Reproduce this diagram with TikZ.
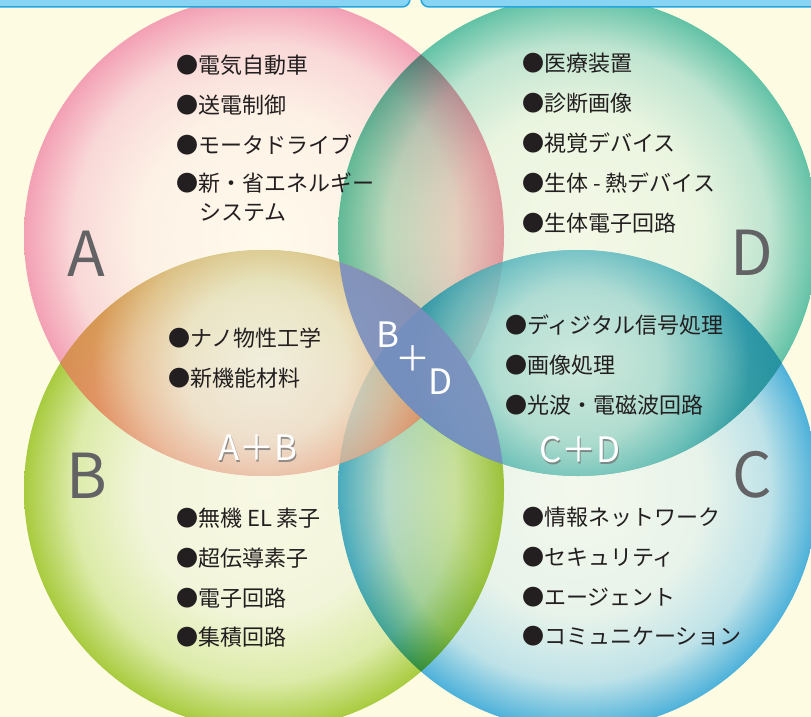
\documentclass[tikz,border=0pt]{standalone}
\usepackage{fontspec}
\newfontfamily\jp{Noto Sans CJK JP}
\definecolor{bg}{HTML}{FDFCE3}
\definecolor{txt}{HTML}{231F20}
\definecolor{lbl}{HTML}{636366}
\definecolor{shd}{HTML}{6E6E6E}
\definecolor{aC}{HTML}{FFFAEC}\definecolor{aM}{HTML}{FDF1E5}\definecolor{aN}{HTML}{F9D8D8}\definecolor{aE}{HTML}{F3A0B4}
\definecolor{dC}{HTML}{F4F8E6}\definecolor{dM}{HTML}{EAF5E0}\definecolor{dN}{HTML}{BEE4D0}\definecolor{dE}{HTML}{62C2A6}
\definecolor{bC}{HTML}{F8F8E4}\definecolor{bM}{HTML}{F2F5DA}\definecolor{bN}{HTML}{DCEBA8}\definecolor{bE}{HTML}{A8CB3E}
\definecolor{cC}{HTML}{F4F8EC}\definecolor{cM}{HTML}{E8F3EA}\definecolor{cN}{HTML}{BEE2E8}\definecolor{cE}{HTML}{4DB1DA}
\definecolor{abC}{HTML}{F1F0E4}\definecolor{abM}{HTML}{EFE6D0}\definecolor{abN}{HTML}{ECC29C}\definecolor{abE}{HTML}{E6935E}
\definecolor{cdC}{HTML}{CDEAE2}\definecolor{cdM}{HTML}{B2DED5}\definecolor{cdN}{HTML}{6CC0C0}\definecolor{cdE}{HTML}{2A96A6}
\definecolor{bdF}{HTML}{7A8EC2}
\definecolor{barF}{HTML}{88D4F5}
\definecolor{barD}{HTML}{22A6E0}
\pgfdeclareradialshading{shA}{\pgfpoint{0bp}{0bp}}{color(0bp)=(aC); color(13bp)=(aM); color(20bp)=(aN); color(25bp)=(aE); color(50bp)=(aE)}
\pgfdeclareradialshading{shD}{\pgfpoint{0bp}{0bp}}{color(0bp)=(dC); color(13bp)=(dM); color(20bp)=(dN); color(25bp)=(dE); color(50bp)=(dE)}
\pgfdeclareradialshading{shB}{\pgfpoint{0bp}{0bp}}{color(0bp)=(bC); color(13bp)=(bM); color(20bp)=(bN); color(25bp)=(bE); color(50bp)=(bE)}
\pgfdeclareradialshading{shC}{\pgfpoint{0bp}{0bp}}{color(0bp)=(cC); color(13bp)=(cM); color(20bp)=(cN); color(25bp)=(cE); color(50bp)=(cE)}
\pgfdeclareradialshading{shAB}{\pgfpoint{0bp}{0bp}}{color(0bp)=(abC); color(10bp)=(abM); color(16bp)=(abN); color(21bp)=(abE); color(50bp)=(abE)}
\pgfdeclareradialshading{shCD}{\pgfpoint{0bp}{0bp}}{color(0bp)=(cdC); color(10bp)=(cdM); color(16bp)=(cdN); color(21bp)=(cdE); color(50bp)=(cdE)}
\begin{document}
\begin{tikzpicture}[x=1pt,y=-1pt,
  lst/.style={font=\jp\fontsize{22}{26}\selectfont, text=txt, anchor=west, inner sep=0pt},
  big/.style={font=\jp\fontsize{62}{70}\selectfont, text=lbl, inner sep=0pt},
  wl/.style={font=\jp\fontsize{35}{40}\selectfont, text=white, inner sep=0pt},
  ws/.style={font=\jp\fontsize{35}{40}\selectfont, text=shd, opacity=0.7, inner sep=0pt},
  barbox/.style={fill=barF, draw=barD, line width=1.5pt, rounded corners=8pt}]
\useasboundingbox (0,0) rectangle (811,717);
\fill[bg] (0,0) rectangle (811,717);
\coordinate (cA) at (264,236);
\coordinate (cD) at (578,236);
\coordinate (cB) at (264,490);
\coordinate (cC) at (578,490);
% white base under the circles
\fill[white] (cA) circle[radius=240pt] (cD) circle[radius=240pt]
             (cB) circle[radius=240pt] (cC) circle[radius=240pt];
% circles
\begin{scope}[blend mode=multiply]
  \shade[shading=shA] (cA) circle[radius=240pt];
  \shade[shading=shD] (cD) circle[radius=240pt];
  \shade[shading=shB] (cB) circle[radius=240pt];
  \shade[shading=shC] (cC) circle[radius=240pt];
\end{scope}
% lens A+B
\begin{scope}
  \clip (cA) circle[radius=240pt];
  \clip (cB) circle[radius=240pt];
  \shade[shading=shAB, opacity=0.78] (60,159) rectangle (468,567);
\end{scope}
% lens C+D
\begin{scope}
  \clip (cC) circle[radius=240pt];
  \clip (cD) circle[radius=240pt];
  \shade[shading=shCD, opacity=0.78] (374,159) rectangle (782,567);
\end{scope}
% lens B+D
\begin{scope}
  \clip (cB) circle[radius=240pt];
  \fill[bdF, opacity=0.88] (cD) circle[radius=240pt];
\end{scope}
% big letters
\node[big] (LA) at (86,254) {A};
\node[big] (LD) at (752,253) {D};
\node[big] (LB) at (87,476) {B};
\node[big] (LC) at (752,475) {C};
% white labels
\node[ws] (sAB) at (259.2,449.2) {A＋B};
\node[wl] (AB) at (258,448) {A＋B};
\node[ws] (sCD) at (581.2,451.2) {C＋D};
\node[wl] (CD) at (580,450) {C＋D};
\node[wl] (BDb) at (388,335) {B};
\node[wl] (BDp) at (413,359) {＋};
\node[wl] (BDd) at (441,382) {D};
% A list
\node[lst] (a1) at (176,65) {●電気自動車};
\node[lst] (a2) at (176,105) {●送電制御};
\node[lst] (a3) at (176,145) {●モータドライブ};
\node[lst] (a4) at (176,183) {●新・省エネルギー};
\node[lst] (a5) at (199,213) {システム};
% D list
\node[lst] (d1) at (522,63) {●医療装置};
\node[lst] (d2) at (522,103) {●診断画像};
\node[lst] (d3) at (522,143) {●視覚デバイス};
\node[lst] (d4) at (522,183) {●生体 - 熱デバイス};
\node[lst] (d5) at (522,223) {●生体電子回路};
% A+B list
\node[lst] (ab1) at (168,338) {●ナノ物性工学};
\node[lst] (ab2) at (168,378) {●新機能材料};
% C+D list
\node[lst] (cd1) at (505,325) {●ディジタル信号処理};
\node[lst] (cd2) at (505,365) {●画像処理};
\node[lst] (cd3) at (505,405) {●光波・電磁波回路};
% B list
\node[lst] (b1) at (176,518) {●無機 EL 素子};
\node[lst] (b2) at (176,558) {●超伝導素子};
\node[lst] (b3) at (176,598) {●電子回路};
\node[lst] (b4) at (176,637) {●集積回路};
% C list
\node[lst] (c1) at (522,517) {●情報ネットワーク};
\node[lst] (c2) at (522,557) {●セキュリティ};
\node[lst] (c3) at (522,597) {●エージェント};
\node[lst] (c4) at (522,636) {●コミュニケーション};
% top bars
\draw[barbox] (-20,-30) rectangle (410,7);
\draw[barbox] (421,-30) rectangle (830,7);
\end{tikzpicture}
\end{document}
